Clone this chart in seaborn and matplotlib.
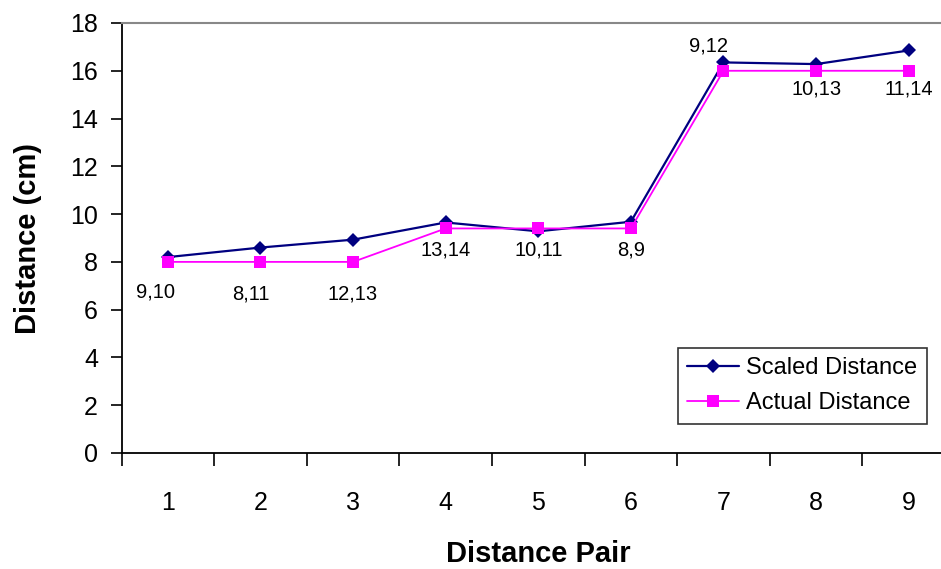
import matplotlib
matplotlib.use("Agg")
import matplotlib.pyplot as plt
import seaborn as sns
import pandas as pd
import numpy as np

pairs = [1, 2, 3, 4, 5, 6, 7, 8, 9]
scaled = [8.2, 8.6, 8.93, 9.65, 9.28, 9.68, 16.35, 16.28, 16.85]
actual = [8.0, 8.0, 8.0, 9.4, 9.4, 9.4, 16.0, 16.0, 16.0]
pair_labels = ["9,10", "8,11", "12,13", "13,14", "10,11", "8,9", "9,12", "10,13", "11,14"]
# label placement offsets in pixels relative to the Actual Distance point
label_offsets = [(-12, -30), (-10, -32), (0, -32), (0, -22), (0, -22), (0, -22),
                 (-15, 25), (0, -18), (0, -18)]

sns.set_theme(style="white")
plt.rcParams["font.family"] = ["Liberation Sans", "DejaVu Sans"]
plt.rcParams["text.color"] = "black"
plt.rcParams["axes.labelcolor"] = "black"
plt.rcParams["xtick.color"] = "black"
plt.rcParams["ytick.color"] = "black"

fig = plt.figure(figsize=(9.41, 5.69), dpi=100)
ax = fig.add_axes([121.5 / 941, 116 / 569, (955 - 121.5) / 941, (453 - 23) / 569])

df = pd.DataFrame({"pair": pairs, "Scaled Distance": scaled, "Actual Distance": actual})

sns.lineplot(data=df, x="pair", y="Scaled Distance", ax=ax, color="#000080",
             marker="D", markersize=7, markeredgewidth=0, linewidth=1.6,
             label="Scaled Distance")
sns.lineplot(data=df, x="pair", y="Actual Distance", ax=ax, color="#FF00FF",
             marker="s", markersize=9, markeredgewidth=0, linewidth=1.3,
             label="Actual Distance")

for x, y, txt, off in zip(pairs, actual, pair_labels, label_offsets):
    ax.annotate(txt, (x, y), xytext=off, textcoords="offset pixels",
                ha="center", va="center", fontsize=14.5, color="black")

ax.set_xlim(0.5, 9.5)
ax.set_ylim(0, 18)
ax.set_yticks(np.arange(0, 19, 2))
ax.set_xticks(pairs)
ax.set_xticks(np.arange(0.5, 10, 1), minor=True)
ax.tick_params(axis="x", which="major", length=0, pad=27, labelsize=18)
ax.tick_params(axis="x", which="minor", length=9, width=1.2, direction="out",
               bottom=True, color="black")
ax.tick_params(axis="y", which="major", length=8, width=1.2, direction="out",
               left=True, pad=9, labelsize=18, color="black")

for side in ["left", "bottom"]:
    ax.spines[side].set_color("black")
    ax.spines[side].set_linewidth(1.3)
ax.spines["top"].set_color("#888888")
ax.spines["top"].set_linewidth(1.5)
ax.spines["right"].set_visible(False)
ax.grid(False)

ax.set_xlabel("Distance Pair", fontsize=21, fontweight="bold", labelpad=18)
ax.set_ylabel("Distance (cm)", fontsize=21, fontweight="bold", labelpad=20)

leg = ax.legend(loc="upper left", bbox_to_anchor=(678 / 941, 1 - 348 / 569),
                bbox_transform=fig.transFigure, borderaxespad=0,
                frameon=True, fancybox=False, fontsize=17, handlelength=2.2,
                borderpad=0.4, labelspacing=0.55, handletextpad=0.3)
leg.get_frame().set_edgecolor("black")
leg.get_frame().set_linewidth(1.2)

fig.savefig("out.png", dpi=100)
